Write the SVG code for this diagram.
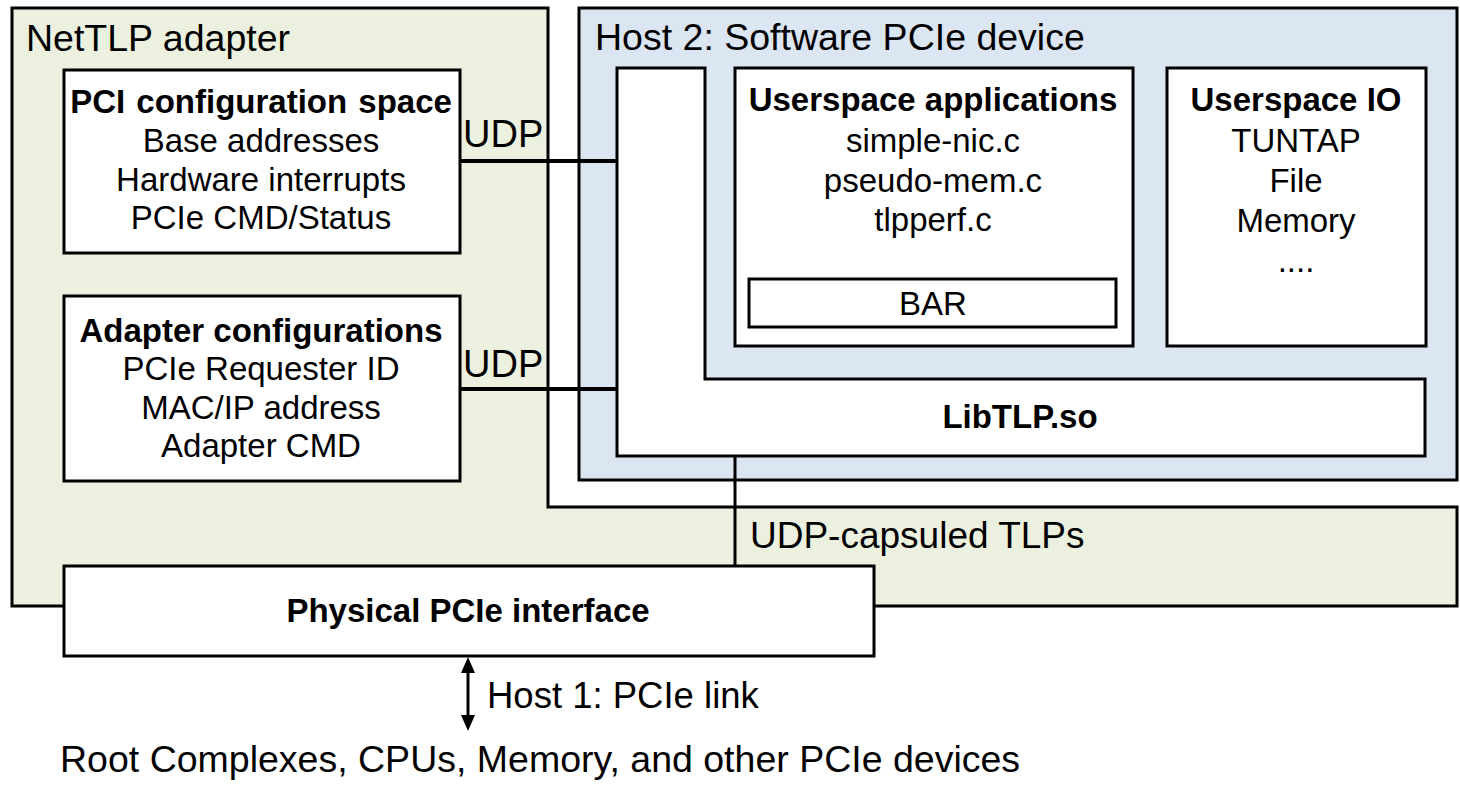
<svg xmlns="http://www.w3.org/2000/svg" width="1460" height="806" viewBox="0 0 1460 806">
<defs>
<style>
.t{font-family:"Liberation Sans",Arial,sans-serif;fill:#000}
.big{font-size:37.5px}
.b{font-size:33px;text-anchor:middle}
.bb{font-size:33px;text-anchor:middle;font-weight:bold}
.box{fill:#fff;stroke:#000;stroke-width:3}
.ln{stroke:#000;fill:none}
</style>
</defs>
<rect width="1460" height="806" fill="#fff"/>

<g id="nettlp-adapter">
<polygon points="12,8 548,8 548,507 1457,507 1457,606 12,606" fill="#ebf1de" stroke="#000" stroke-width="3"/>
<text class="t big" x="26" y="51">NetTLP adapter</text>
</g>

<g id="host2">
<rect x="579" y="8" width="878" height="472" fill="#dce6f2" stroke="#000" stroke-width="3"/>
<text class="t big" x="595" y="50">Host 2: Software PCIe device</text>
</g>

<g id="pci-config">
<rect class="box" x="64" y="70" width="396" height="183"/>
<text class="t bb" x="261" y="113" word-spacing="2">PCI configuration space</text>
<text class="t b" x="261" y="152">Base addresses</text>
<text class="t b" x="261" y="191">Hardware interrupts</text>
<text class="t b" x="261" y="229">PCIe CMD/Status</text>
</g>

<g id="adapter-config">
<rect class="box" x="64" y="296" width="396" height="185"/>
<text class="t bb" x="261" y="342">Adapter configurations</text>
<text class="t b" x="261" y="380">PCIe Requester ID</text>
<text class="t b" x="261" y="419">MAC/IP address</text>
<text class="t b" x="261" y="457">Adapter CMD</text>
</g>

<g id="libtlp">
<polygon class="box" points="617,68 705,68 705,379 1425,379 1425,456 617,456"/>
<text class="t bb" x="1020" y="428">LibTLP.so</text>
</g>

<g id="userspace-apps">
<rect class="box" x="735" y="68" width="398" height="278"/>
<text class="t bb" x="933" y="111">Userspace applications</text>
<text class="t b" x="933" y="152">simple-nic.c</text>
<text class="t b" x="933" y="192">pseudo-mem.c</text>
<text class="t b" x="933" y="231">tlpperf.c</text>
</g>

<g id="bar">
<rect class="box" x="749" y="279" width="367" height="48"/>
<text class="t b" x="933" y="315">BAR</text>
</g>

<g id="userspace-io">
<rect class="box" x="1167" y="68" width="259" height="278"/>
<text class="t bb" x="1296" y="111">Userspace IO</text>
<text class="t b" x="1296" y="152">TUNTAP</text>
<text class="t b" x="1296" y="192">File</text>
<text class="t b" x="1296" y="232">Memory</text>
<text class="t b" x="1296" y="272">....</text>
</g>

<g id="physical-pcie">
<rect class="box" x="64" y="566" width="810" height="90"/>
<text class="t bb" x="468" y="622">Physical PCIe interface</text>
</g>

<g id="connectors">
<line class="ln" x1="460" y1="161" x2="617" y2="161" stroke-width="4"/>
<line class="ln" x1="460" y1="389" x2="617" y2="389" stroke-width="4"/>
<line class="ln" x1="735" y1="456" x2="735" y2="566" stroke-width="3"/>
<line class="ln" x1="468" y1="668" x2="468" y2="720" stroke-width="3"/>
<polygon points="468,657 475,673 461,673" fill="#000"/>
<polygon points="468,731 475,715 461,715" fill="#000"/>
</g>

<g id="labels">
<text class="t" style="font-size:38px" x="463" y="147">UDP</text>
<text class="t" style="font-size:38px" x="463" y="377">UDP</text>
<text class="t" style="font-size:37px" x="750" y="548">UDP-capsuled TLPs</text>
<text class="t" style="font-size:36.5px" x="487" y="708">Host 1: PCIe link</text>
<text class="t" style="font-size:37.5px" x="60" y="772">Root Complexes, CPUs, Memory, and other PCIe devices</text>
</g>
</svg>
